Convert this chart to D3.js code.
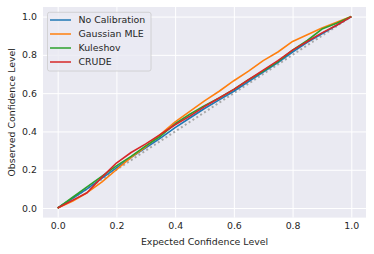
<!DOCTYPE html>
<html>
<head>
<meta charset="utf-8">
<script src="https://cdn.jsdelivr.net/npm/d3@7"></script>
<style>
  body { margin: 0; background: #fff; }
  svg text { font-family: "DejaVu Sans", sans-serif; fill: #262626; }
</style>
</head>
<body>
<svg id="chart" width="374" height="254"></svg>
<script>
// expected confidence levels (x)
var expected = [0, 0.05, 0.1, 0.15, 0.2, 0.25, 0.3, 0.35, 0.4, 0.45, 0.5,
                0.55, 0.6, 0.65, 0.7, 0.75, 0.8, 0.85, 0.9, 0.95, 1.0];

// observed levels per method
var noCalibration = [0, 0.05, 0.10, 0.155, 0.21, 0.265, 0.315, 0.365, 0.42, 0.47, 0.52,
                     0.565, 0.61, 0.66, 0.71, 0.76, 0.815, 0.865, 0.91, 0.955, 1.0];
var gaussianMLE   = [0, 0.035, 0.08, 0.135, 0.20, 0.265, 0.32, 0.385, 0.45, 0.505, 0.56,
                     0.61, 0.665, 0.715, 0.77, 0.815, 0.87, 0.905, 0.94, 0.97, 1.0];
var kuleshov      = [0, 0.055, 0.11, 0.165, 0.22, 0.27, 0.325, 0.375, 0.44, 0.49, 0.535,
                     0.575, 0.62, 0.67, 0.715, 0.765, 0.825, 0.875, 0.935, 0.965, 1.0];
var crude         = [0, 0.04, 0.08, 0.16, 0.235, 0.29, 0.335, 0.385, 0.435, 0.48, 0.53,
                     0.575, 0.62, 0.67, 0.72, 0.77, 0.825, 0.87, 0.915, 0.955, 1.0];

var seriesNames = ["No Calibration", "Gaussian MLE", "Kuleshov", "CRUDE"];
var seriesValues = [noCalibration, gaussianMLE, kuleshov, crude];
var colors = ["#1f77b4", "#ff7f0e", "#2ca02c", "#d62728"];
var ticks = [0, 0.2, 0.4, 0.6, 0.8, 1.0];

var svg = d3.select("#chart");
var pL = 43, pR = 366, pT = 7, pB = 217.6;
var fs = 9.4;

var x = d3.scaleLinear().domain([-0.05, 1.05]).range([pL, pR]);
var y = d3.scaleLinear().domain([-0.05, 1.05]).range([pB, pT]);

// seaborn darkgrid background
svg.append("rect")
  .attr("x", pL).attr("y", pT)
  .attr("width", pR - pL).attr("height", pB - pT)
  .attr("fill", "#eaeaf2");

// grid
var xAxis = d3.axisBottom(x).tickValues(ticks).tickSize(-(pB - pT))
  .tickFormat(d3.format(".1f")).tickPadding(5);
var yAxis = d3.axisLeft(y).tickValues(ticks).tickSize(-(pR - pL))
  .tickFormat(d3.format(".1f")).tickPadding(6);

var gx = svg.append("g").attr("transform", "translate(0," + pB + ")").call(xAxis);
var gy = svg.append("g").attr("transform", "translate(" + pL + ",0)").call(yAxis);
[gx, gy].forEach(function (g) {
  g.select(".domain").remove();
  g.selectAll(".tick line").attr("stroke", "#fff").attr("stroke-width", 1);
  g.selectAll(".tick text").style("font-size", fs + "px")
    .style("font-family", "DejaVu Sans").attr("fill", "#262626");
});

// perfect calibration diagonal
svg.append("line")
  .attr("x1", x(0)).attr("y1", y(0))
  .attr("x2", x(1)).attr("y2", y(1))
  .attr("stroke", "#a8a8a8").attr("stroke-width", 2)
  .attr("stroke-dasharray", "2,2.6");

var line = d3.line()
  .x(function (d, i) { return x(expected[i]); })
  .y(function (d) { return y(d); });

seriesValues.forEach(function (vals, i) {
  svg.append("path")
    .datum(vals)
    .attr("d", line)
    .attr("fill", "none")
    .attr("stroke", colors[i])
    .attr("stroke-width", 1.6)
    .attr("stroke-linejoin", "round");
});

// axis labels
svg.append("text")
  .attr("x", (pL + pR) / 2).attr("y", 245)
  .attr("text-anchor", "middle")
  .style("font-size", fs + "px")
  .text("Expected Confidence Level");

svg.append("text")
  .attr("transform", "translate(15," + ((pT + pB) / 2) + ") rotate(-90)")
  .attr("text-anchor", "middle")
  .style("font-size", fs + "px")
  .text("Observed Confidence Level");

// legend
var legend = svg.append("g");
legend.append("rect")
  .attr("x", 47.5).attr("y", 12.3)
  .attr("width", 103.5).attr("height", 58.7)
  .attr("rx", 2)
  .attr("fill", "#eaeaf2").attr("fill-opacity", 0.8)
  .attr("stroke", "#cccccc").attr("stroke-width", 0.8);

seriesNames.forEach(function (name, i) {
  var ly = 20 + i * 14;
  legend.append("line")
    .attr("x1", 50).attr("x2", 71)
    .attr("y1", ly).attr("y2", ly)
    .attr("stroke", colors[i]).attr("stroke-width", 1.5);
  legend.append("text")
    .attr("x", 78.5).attr("y", ly + 3.4)
    .style("font-size", fs + "px")
    .text(name);
});
</script>
</body>
</html>
